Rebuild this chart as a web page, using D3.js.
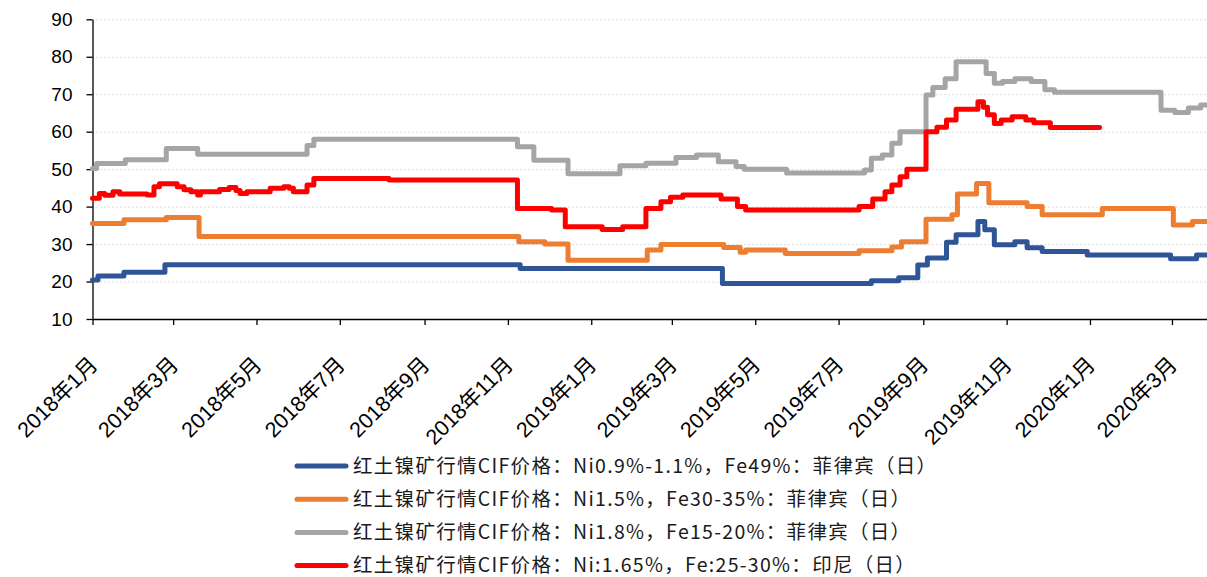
<!DOCTYPE html>
<html>
<head>
<meta charset="utf-8">
<script src="https://cdn.jsdelivr.net/npm/d3@7"></script>
<style>
  body { margin: 0; background: #fff; }
  svg text { font-family: "Liberation Sans", "Noto Sans CJK SC", sans-serif; }
</style>
</head>
<body>
<svg id="chart" width="1207" height="577"></svg>
<script>
// values, [date, price]
const seriesNames = [
    "红土镍矿行情CIF价格：Ni0.9%-1.1%，Fe49%：菲律宾（日）",
    "红土镍矿行情CIF价格：Ni1.5%，Fe30-35%：菲律宾（日）",
    "红土镍矿行情CIF价格：Ni1.8%，Fe15-20%：菲律宾（日）",
    "红土镍矿行情CIF价格：Ni:1.65%，Fe:25-30%：印尼（日）"
]
const seriesColors = ["#2f5597", "#ed7d31", "#a5a5a5", "#ff0000"]

const ni09 = [
    ["2018-01-01", 20.4], ["2018-01-05", 21.5], ["2018-01-24", 22.5], ["2018-02-23", 24.5],
    ["2018-11-10", 23.5], ["2019-04-07", 19.5], ["2019-07-25", 20.2], ["2019-08-14", 21],
    ["2019-08-28", 24.4], ["2019-09-04", 26.3], ["2019-09-18", 30.5], ["2019-09-25", 32.5],
    ["2019-10-11", 36], ["2019-10-16", 33.8], ["2019-10-23", 29.8], ["2019-11-07", 30.6],
    ["2019-11-16", 29], ["2019-11-27", 28], ["2019-12-30", 27.1], ["2020-02-29", 26.1],
    ["2020-03-19", 27.1], ["2020-03-27", 27.1]
]

const ni15 = [
    ["2018-01-01", 35.5], ["2018-01-24", 36.5], ["2018-02-24", 37.1], ["2018-03-20", 32],
    ["2018-11-09", 30.6], ["2018-11-28", 30], ["2018-12-15", 25.7], ["2019-02-11", 28.4],
    ["2019-02-21", 29.9], ["2019-04-08", 29.1], ["2019-04-20", 27.8], ["2019-04-24", 28.4],
    ["2019-05-23", 27.5], ["2019-07-16", 28.2], ["2019-08-09", 29.2], ["2019-08-16", 30.6],
    ["2019-09-03", 36.6], ["2019-09-22", 37.8], ["2019-09-26", 43.4], ["2019-10-10", 46.2],
    ["2019-10-19", 41], ["2019-11-16", 40], ["2019-11-27", 37.8], ["2020-01-10", 39.5],
    ["2020-03-02", 35.1], ["2020-03-16", 36], ["2020-03-27", 36]
]

const ni18 = [
    ["2018-01-01", 50.2], ["2018-01-04", 51.5], ["2018-01-25", 52.5], ["2018-02-24", 55.5],
    ["2018-03-19", 54], ["2018-06-07", 56.3], ["2018-06-12", 58], ["2018-11-08", 56],
    ["2018-11-20", 52.4], ["2018-12-15", 48.8], ["2019-01-22", 50.9], ["2019-02-10", 51.6],
    ["2019-03-04", 53.1], ["2019-03-19", 53.8], ["2019-04-04", 52], ["2019-04-17", 50.7],
    ["2019-04-23", 50], ["2019-05-24", 49], ["2019-07-20", 49.8], ["2019-07-25", 52.9],
    ["2019-08-02", 53.8], ["2019-08-09", 56.9], ["2019-08-15", 60], ["2019-09-03", 69.8],
    ["2019-09-08", 71.8], ["2019-09-17", 74.1], ["2019-09-25", 78.7], ["2019-10-17", 75.5],
    ["2019-10-23", 72.9], ["2019-10-29", 73.4], ["2019-11-07", 74.1], ["2019-11-19", 73.4],
    ["2019-11-29", 71.2], ["2019-12-06", 70.5], ["2020-02-22", 65.7], ["2020-03-03", 65.1],
    ["2020-03-13", 66.3], ["2020-03-22", 67.1], ["2020-03-27", 67.1]
]

const ni165 = [
    ["2018-01-01", 42.2], ["2018-01-06", 43.5], ["2018-01-10", 43.0], ["2018-01-16", 44.0],
    ["2018-01-21", 43.4], ["2018-02-10", 43.1], ["2018-02-15", 45.3], ["2018-02-19", 46.1],
    ["2018-03-04", 45.3], ["2018-03-09", 44.5], ["2018-03-14", 44.0], ["2018-03-19", 43.1],
    ["2018-03-21", 44.0], ["2018-04-04", 44.6], ["2018-04-11", 45.1], ["2018-04-16", 44.3],
    ["2018-04-19", 43.5], ["2018-04-24", 44.0], ["2018-05-11", 44.9], ["2018-05-21", 45.3],
    ["2018-05-25", 44.9], ["2018-05-28", 44.0], ["2018-06-07", 45.8], ["2018-06-12", 47.5],
    ["2018-08-06", 47.1], ["2018-11-08", 39.5], ["2018-12-03", 39.1], ["2018-12-13", 34.6],
    ["2019-01-09", 33.9], ["2019-01-24", 34.6], ["2019-02-10", 39.5], ["2019-02-21", 41.3],
    ["2019-02-28", 42.5], ["2019-03-09", 43.1], ["2019-04-06", 42.0], ["2019-04-18", 40.0],
    ["2019-04-24", 39.1], ["2019-07-16", 40.0], ["2019-07-26", 42.0], ["2019-08-04", 44.0],
    ["2019-08-09", 45.8], ["2019-08-15", 48.0], ["2019-08-20", 50.0], ["2019-09-03", 60.0],
    ["2019-09-11", 61.2], ["2019-09-18", 63.1], ["2019-09-25", 66.0], ["2019-10-11", 68.0],
    ["2019-10-15", 66.5], ["2019-10-18", 64.5], ["2019-10-23", 62.2], ["2019-10-28", 63.1],
    ["2019-11-05", 64.0], ["2019-11-15", 63.1], ["2019-11-21", 62.4], ["2019-12-03", 61.1],
    ["2020-01-08", 61.1]
]

const yTicks = [10, 20, 30, 40, 50, 60, 70, 80, 90]
const xStart = "2018-01-01", xEnd = "2020-03-27"

const margin = { top: 19.3, right: 0, bottom: 258, left: 92.5 },
    width = 1207 - margin.left - margin.right,
    height = 577 - margin.top - margin.bottom

const svg = d3.select("#chart")
const g = svg.append("g")
    .attr("transform", "translate(" + margin.left + "," + margin.top + ")")

const x = d3.scaleUtc()
    .domain([new Date(xStart), new Date(xEnd)])
    .range([0, width + 0.5])
const y = d3.scaleLinear()
    .domain([10, 90])
    .range([height, 0])

// dotted grid
g.append("g")
    .selectAll("line")
    .data(yTicks.slice(1))
    .join("line")
    .attr("x1", 0)
    .attr("x2", width)
    .attr("y1", d => y(d) + 0.5)
    .attr("y2", d => y(d) + 0.5)
    .attr("stroke", "#d0d0d0")
    .attr("stroke-width", 1)
    .attr("stroke-dasharray", "1.5,2.5")

// Add Y axis
const yAxis = g.append("g")
    .call(d3.axisLeft(y).tickValues(yTicks).tickSize(6).tickPadding(14).tickSizeOuter(0))
yAxis.select(".domain").attr("stroke", "#000").attr("stroke-width", 1.3)
yAxis.selectAll(".tick line").attr("stroke", "#000").attr("stroke-width", 1.3)
yAxis.selectAll("text").attr("font-size", 19).attr("fill", "#000")
    .style("font-family", "'Liberation Sans', Arial, sans-serif")

// Add X axis
const xAxis = g.append("g")
    .attr("transform", "translate(0," + height + ")")
    .call(d3.axisBottom(x).ticks(d3.utcMonth.every(2)).tickSize(6).tickSizeOuter(0)
        .tickFormat(d => d.getUTCFullYear() + "年" + (d.getUTCMonth() + 1) + "月"))
xAxis.select(".domain").attr("stroke", "#000").attr("stroke-width", 1.3)
xAxis.selectAll(".tick line").attr("stroke", "#000").attr("stroke-width", 1.3)
xAxis.selectAll("text")
    .attr("font-size", 21.5)
    .attr("fill", "#000")
    .attr("text-anchor", "end")
    .attr("y", 0).attr("dy", 0)
    .attr("transform", "translate(6,47) rotate(-45)")

// Add the lines
const line = d3.line()
    .curve(d3.curveStepAfter)
    .x(d => x(new Date(d[0])))
    .y(d => y(d[1]))

const allSeries = [ni09, ni15, ni18, ni165]
g.append("g")
    .selectAll("path")
    .data(allSeries)
    .join("path")
    .attr("fill", "none")
    .attr("stroke", (d, i) => seriesColors[i])
    .attr("stroke-width", 5)
    .attr("stroke-linejoin", "round")
    .attr("stroke-linecap", "round")
    .attr("d", line)

// legend
const legend = svg.append("g")
    .selectAll("g")
    .data(seriesNames)
    .join("g")
    .attr("transform", (d, i) => "translate(297," + (466 + i * 33.2) + ")")
legend.append("line")
    .attr("x1", 0).attr("x2", 49)
    .attr("stroke", (d, i) => seriesColors[i])
    .attr("stroke-width", 5)
    .attr("stroke-linecap", "round")
legend.append("text")
    .attr("x", 56)
    .attr("dy", "0.34em")
    .attr("font-size", 19.5)
    .attr("letter-spacing", 1.3)
    .attr("fill", "#1a1a1a")
    .style("font-family", "'Noto Sans CJK SC', sans-serif")
    .text(d => d)
</script>
</body>
</html>
